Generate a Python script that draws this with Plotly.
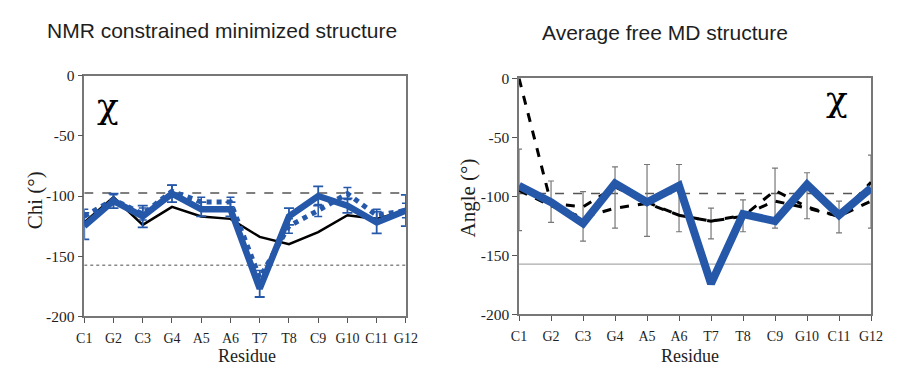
import plotly.graph_objects as go

residues = ["C1", "G2", "C3", "G4", "A5", "A6", "T7", "T8", "C9", "G10", "C11", "G12"]

# NMR constrained minimized structure (chi, degrees)
nmr_blue = [-125, -104, -117, -98, -111, -111, -177, -117, -100, -108, -122, -112]
nmr_blue_err = [11, 6, 9, 7, 6, 6, 7, 7, 8, 6, 9, 13]
nmr_dotted = [-117, -103, -115, -96, -105, -105, -168, -125, -112, -98, -116, -112]
nmr_dotted_err = [6, 4, 5, 5, 4, 4, 6, 6, 5, 5, 5, 6]
nmr_black = [-122, -101, -124, -109, -117, -119, -134, -140, -130, -116, -119, -112]

# Average free MD structure (angle, degrees)
md_blue = [-91, -105, -123, -89, -105, -91, -174, -115, -121, -90, -116, -93]
md_dash_a = [0, -106, -109, -92, -105, -116, -121, -117, -95, -109, -117, -88]
md_dash_b = [-95, -108, -118, -110, -106, -116, -121, -116, -104, -110, -117, -104]
md_err_top = [-60, -87, -96, -75, -73, -73, -110, -103, -76, -80, -104, -65]
md_err_bottom = [-129, -122, -138, -127, -134, -130, -136, -130, -127, -119, -131, -127]

ref_upper = -97.5
ref_lower = -157.5

y_ticks = [0, -50, -100, -150, -200]

BLUE = "#2658aa"
SERIF = "Liberation Serif"
SANS = "Liberation Sans"
TEXT = "#1e1e1e"

xpos = list(range(len(residues)))

fig = go.Figure()

# ---- left panel ----
fig.add_trace(go.Scatter(
    x=[0, 11], y=[ref_upper, ref_upper], mode="lines",
    line=dict(color="#555555", width=1.5, dash="dash"),
    xaxis="x", yaxis="y", hoverinfo="skip"))
fig.add_trace(go.Scatter(
    x=[0, 11], y=[ref_lower, ref_lower], mode="lines",
    line=dict(color="#888888", width=1.5, dash="dot"),
    xaxis="x", yaxis="y", hoverinfo="skip"))
fig.add_trace(go.Scatter(
    x=xpos, y=nmr_black, mode="lines",
    line=dict(color="black", width=2.5),
    xaxis="x", yaxis="y"))
fig.add_trace(go.Scatter(
    x=xpos, y=nmr_dotted, mode="lines",
    line=dict(color=BLUE, width=5, dash="dot"),
    error_y=dict(type="data", array=nmr_dotted_err, color=BLUE, thickness=1.5, width=4),
    xaxis="x", yaxis="y"))
fig.add_trace(go.Scatter(
    x=xpos, y=nmr_blue, mode="lines",
    line=dict(color=BLUE, width=6.5),
    error_y=dict(type="data", array=nmr_blue_err, color=BLUE, thickness=1.8, width=5),
    xaxis="x", yaxis="y"))

# ---- right panel ----
fig.add_trace(go.Scatter(
    x=[0, 11], y=[ref_upper, ref_upper], mode="lines",
    line=dict(color="#555555", width=1.5, dash="dash"),
    xaxis="x2", yaxis="y2", hoverinfo="skip"))
fig.add_trace(go.Scatter(
    x=[0, 11], y=[ref_lower, ref_lower], mode="lines",
    line=dict(color="#aaaaaa", width=1.2),
    xaxis="x2", yaxis="y2", hoverinfo="skip"))
err_plus = [t - c for t, c in zip(md_err_top, md_dash_b)]
err_minus = [c - b for c, b in zip(md_dash_b, md_err_bottom)]
fig.add_trace(go.Scatter(
    x=xpos, y=md_dash_b, mode="lines",
    line=dict(color="black", width=3, dash="dash"),
    error_y=dict(type="data", symmetric=False, array=err_plus, arrayminus=err_minus,
                 color="#777777", thickness=1.2, width=3),
    xaxis="x2", yaxis="y2"))
fig.add_trace(go.Scatter(
    x=xpos, y=md_dash_a, mode="lines",
    line=dict(color="black", width=3, dash="dash"),
    xaxis="x2", yaxis="y2"))
fig.add_trace(go.Scatter(
    x=xpos, y=md_blue, mode="lines",
    line=dict(color=BLUE, width=8),
    xaxis="x2", yaxis="y2"))

W, H = 897, 371
left_x = [78 / W, 407 / W]
left_y = [1 - 322 / H, 1 - 70 / H]
right_x = [522.7 / W, 882.7 / W]
right_y = [1 - 320 / H, 1 - 72.7 / H]

xaxis_common = dict(
    range=[0, 11], tickvals=xpos, ticktext=residues, showgrid=False, zeroline=False,
    ticks="outside", ticklen=5, tickcolor="#555555", showline=True, linecolor="#777777",
    linewidth=1.5, mirror=True, ticklabelstandoff=3,
    tickfont=dict(family=SERIF, size=14, color=TEXT))
yaxis_common = dict(
    range=[-200, 0], tickvals=y_ticks, ticktext=[str(v) for v in y_ticks],
    showgrid=False, zeroline=False, ticks="outside", ticklen=5, tickcolor="#555555",
    showline=True, linecolor="#777777", linewidth=1.5, mirror=True,
    tickfont=dict(family=SERIF, size=15.5, color=TEXT))

fig.update_layout(
    width=W, height=H, margin=dict(l=0, r=0, t=0, b=0),
    paper_bgcolor="white", plot_bgcolor="white", showlegend=False,
    xaxis=dict(domain=left_x, anchor="y", **xaxis_common),
    yaxis=dict(domain=left_y, anchor="x", **yaxis_common),
    xaxis2=dict(domain=right_x, anchor="y2", **xaxis_common),
    yaxis2=dict(domain=right_y, anchor="x2", **yaxis_common),
)

annotations = [
    dict(text="NMR constrained minimized structure", x=219 / W, y=1 - 23 / H,
         font=dict(family=SANS, size=21, color=TEXT)),
    dict(text="Average free MD structure", x=672 / W, y=1 - 25 / H,
         font=dict(family=SANS, size=21, color=TEXT)),
    dict(text="χ", x=102 / W, y=1 - 101 / H,
         font=dict(family="DejaVu Serif", size=36, color="black")),
    dict(text="χ", x=848 / W, y=1 - 94 / H,
         font=dict(family="DejaVu Serif", size=36, color="black")),
    dict(text="Chi (°)", x=27 / W, y=1 - 200 / H, textangle=-90,
         font=dict(family=SERIF, size=21, color=TEXT)),
    dict(text="Angle (°)", x=470 / W, y=1 - 198 / H, textangle=-90,
         font=dict(family=SERIF, size=21, color=TEXT)),
    dict(text="Residue", x=244 / W, y=1 - 364 / H,
         font=dict(family=SERIF, size=18, color=TEXT)),
    dict(text="Residue", x=698 / W, y=1 - 364 / H,
         font=dict(family=SERIF, size=18, color=TEXT)),
]
for a in annotations:
    a.update(xref="paper", yref="paper", showarrow=False, xanchor="center", yanchor="middle")
fig.update_layout(annotations=annotations)

fig.write_html("out.html")
